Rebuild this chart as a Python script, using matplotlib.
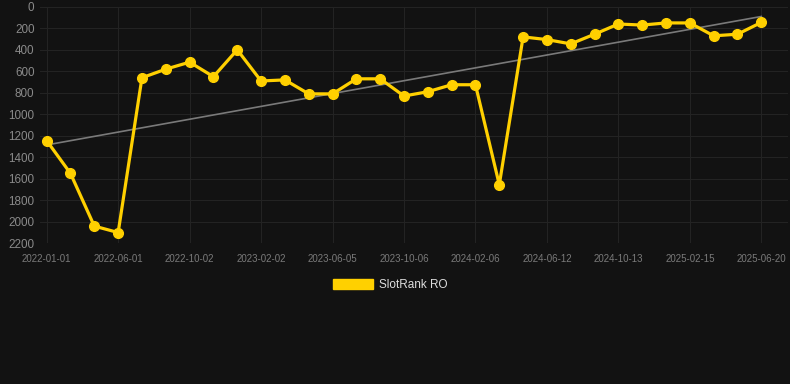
import matplotlib
matplotlib.use('Agg')
import matplotlib.pyplot as plt
from matplotlib.patches import Patch
import numpy as np

plt.rcParams['font.family'] = ['Liberation Sans', 'DejaVu Sans']

# rank per sample (lower is better, axis inverted)
ranks = [1245, 1550, 2040, 2100, 660, 580, 515, 650, 400, 690,
         680, 810, 810, 670, 670, 830, 790, 725, 725, 1655,
         280, 305, 345, 255, 160, 170, 150, 150, 270, 255, 145]
tick_labels = ["2022-01-01", "2022-06-01", "2022-10-02", "2023-02-02", "2023-06-05",
               "2023-10-06", "2024-02-06", "2024-06-12", "2024-10-13", "2025-02-15",
               "2025-06-20"]
tick_step = 3
trend = [1285, 90]
series_name = "SlotRank RO"

bg = "#121212"
yellow = "#FFD000"

fig = plt.figure(figsize=(7.9, 3.84), dpi=100, facecolor=bg)
ax = fig.add_axes([40/790, 1-243.3/384, 748/790, (243.3-6.8)/384])
ax.set_facecolor(bg)

x = np.arange(len(ranks))
ax.plot([x[0], x[-1]], trend, color="#7a7a7a", linewidth=1.2, zorder=2)
ax.plot(x, ranks, color=yellow, linewidth=2.3, marker="o", markersize=7,
        markerfacecolor=yellow, markeredgecolor=yellow, zorder=3, clip_on=False)

ax.set_xlim(-0.28, 31.12)
ax.set_ylim(2200, 0)
ax.set_yticks(range(0, 2201, 200))
ax.set_xticks(x[::tick_step])
ax.set_xticklabels(tick_labels)
ax.tick_params(axis="y", length=0, pad=4, labelsize=8.4, labelcolor="#8a8a8a")
ax.tick_params(axis="x", length=0, pad=8, labelsize=7, labelcolor="#7a7a7a")
ax.grid(True, color="#232323", linewidth=0.8)
ax.set_axisbelow(True)
for s in ax.spines.values():
  s.set_visible(False)

handle = Patch(facecolor=yellow, edgecolor=yellow)
leg = fig.legend([handle], [series_name], loc="center", bbox_to_anchor=(0.494, 1-285/384),
                 frameon=False, fontsize=8.5, handlelength=3.4, handleheight=1.0,
                 handletextpad=0.5, labelcolor="#dddddd")

plt.savefig("out.png", dpi=100, facecolor=bg)
